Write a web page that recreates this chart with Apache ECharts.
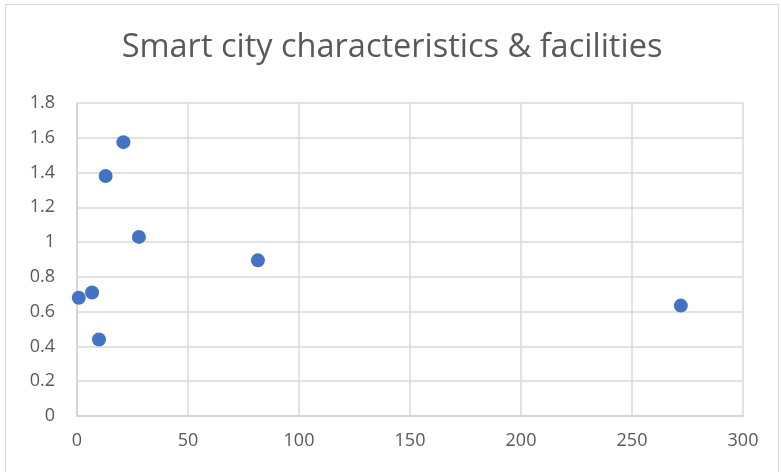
<!DOCTYPE html>
<html>
<head>
<meta charset="utf-8">
<script src="https://cdn.jsdelivr.net/npm/echarts@6/dist/echarts.min.js"></script>
<style>
  html, body { margin: 0; padding: 0; background: #fff; }
  #chart { position: absolute; left: 5px; top: 4px; width: 774px; height: 470px;
    border: 1px solid #d9d9d9; box-sizing: border-box; }
</style>
</head>
<body>
<div id="chart"></div>
<script>
const titleText = 'Smart city characteristics & facilities';
const xValues = [0.8, 6.8, 9.9, 12.9, 20.9, 27.9, 81.5, 272];
const yValues = [0.68, 0.71, 0.44, 1.38, 1.575, 1.03, 0.895, 0.635];

const points = xValues.map((x, i) => [x, yValues[i]]);

const chart = echarts.init(document.getElementById('chart'));
const font = '"Open Sans", "Noto Sans", sans-serif';

chart.setOption({
  animation: false,
  title: {
    text: titleText,
    left: 'center',
    top: 21,
    textStyle: { fontFamily: font, fontSize: 32.5, fontWeight: 'normal', color: '#595959' }
  },
  grid: { left: 71, right: 35, top: 98, bottom: 57 },
  xAxis: {
    type: 'value',
    min: 0, max: 300, interval: 50,
    axisLine: { lineStyle: { color: '#d0d0d0', width: 1.5 } },
    axisTick: { show: false },
    splitLine: { lineStyle: { color: '#d9d9d9', width: 1.5 } },
    axisLabel: { fontFamily: font, fontSize: 18, color: '#595959', margin: 16 }
  },
  yAxis: {
    type: 'value',
    min: 0, max: 1.8, interval: 0.2,
    axisLine: { show: true, lineStyle: { color: '#d0d0d0', width: 1.5 } },
    axisTick: { show: false },
    splitLine: { lineStyle: { color: '#d9d9d9', width: 1.5 } },
    axisLabel: { fontFamily: font, fontSize: 18, color: '#595959', margin: 22,
      formatter: v => String(Math.round(v * 10) / 10) }
  },
  series: [{
    type: 'scatter',
    data: points,
    symbolSize: 14,
    itemStyle: { color: '#4472c4', opacity: 1 }
  }]
});
</script>
</body>
</html>
